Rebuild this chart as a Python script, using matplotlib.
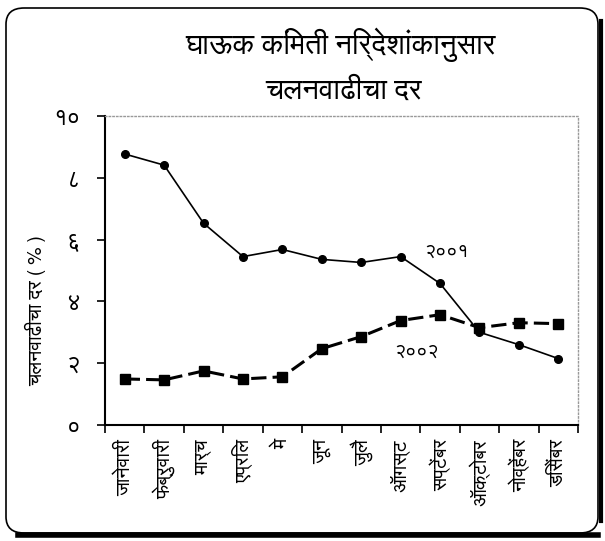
import numpy as np
import matplotlib
matplotlib.use("Agg")
import matplotlib.pyplot as plt
from matplotlib.patches import FancyBboxPatch

months = ['जानेवारी', 'फेब्रुवारी', 'मार्च', 'एप्रिल', 'मे', 'जून', 'जुलै',
          'ऑगस्ट', 'सप्टेंबर', 'ऑक्टोबर', 'नोव्हेंबर', 'डिसेंबर']
infl_2001 = [8.77, 8.41, 6.53, 5.45, 5.68, 5.36, 5.26, 5.45, 4.58, 3.0, 2.6, 2.15]
infl_2002 = [1.49, 1.46, 1.75, 1.49, 1.56, 2.47, 2.86, 3.38, 3.57, 3.15, 3.31, 3.28]
y_ticks = [0, 2, 4, 6, 8, 10]
y_tick_labels = ['०', '२', '४', '६', '८', '१०']

plt.rcParams['font.family'] = ['FreeSans', 'DejaVu Sans']

fig = plt.figure(figsize=(6.05, 5.41), dpi=100)
ax = fig.add_axes([105 / 605, 116 / 541, 473 / 605, 309 / 541])

x = np.arange(len(months))
ax.plot(x, infl_2001, color='black', lw=1.2, marker='o', ms=5.5)
ax.plot(x, infl_2002, color='black', lw=2.2, ls=(0, (5, 2)), marker='s', ms=6.5)

ax.set_xlim(-0.5, 11.5)
ax.set_ylim(0, 10)
ax.set_yticks(y_ticks)
ax.set_yticklabels(y_tick_labels, fontsize=17)
ax.set_xticks(x)
ax.set_xticklabels(months, rotation=90, fontsize=14, va='top')
ax.set_xticks(np.arange(-0.5, 12, 1), minor=True)
ax.tick_params(axis='x', which='major', length=0, pad=10)
ax.tick_params(axis='x', which='minor', length=6, width=1.2, direction='out')
ax.tick_params(axis='y', length=6, width=1.2, direction='out', pad=12)

for s in ['top', 'right']:
    ax.spines[s].set_linestyle(':')
    ax.spines[s].set_color('#999999')
    ax.spines[s].set_linewidth(1)
for s in ['left', 'bottom']:
    ax.spines[s].set_linewidth(1.5)

ax.text(7.6, 5.45, '२००१', fontsize=14)
ax.text(6.85, 2.2, '२००२', fontsize=14)

ax.set_ylabel('चलनवाढीचा दर ( % )', fontsize=14)
ax.yaxis.set_label_coords(-0.125, 0.37)

fig.text(0.562, 0.9, 'घाऊक किंमती निर्देशांकानुसार', ha='center', fontsize=21)
fig.text(0.568, 0.817, 'चलनवाढीचा दर', ha='center', fontsize=21)

# rounded frame with heavy bottom/right edge
frame = FancyBboxPatch((6 / 605, 8 / 541), 592 / 605, 525 / 541,
                       boxstyle='round,pad=0,rounding_size=0.03',
                       transform=fig.transFigure, fill=False, lw=1.2,
                       edgecolor='black')
fig.patches.append(frame)
fig.add_artist(plt.Line2D([18 / 605, 598 / 605], [6 / 541, 6 / 541],
                          transform=fig.transFigure, color='black', lw=4))
fig.add_artist(plt.Line2D([601 / 605, 601 / 605], [20 / 541, 520 / 541],
                          transform=fig.transFigure, color='black', lw=3))

fig.savefig('out.png', dpi=100)
